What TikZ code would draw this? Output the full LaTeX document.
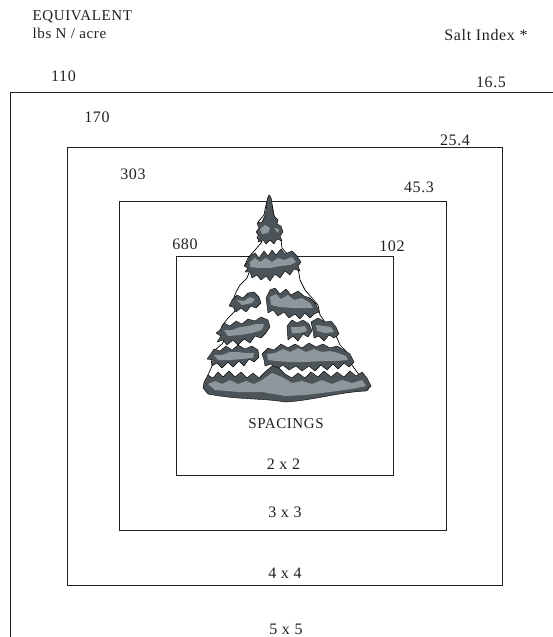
\documentclass[tikz,border=0pt]{standalone}
\usepackage{fontspec}
\setmainfont{Liberation Serif}[LetterSpace=4]
\definecolor{ink}{RGB}{35,31,32}
\definecolor{treedark}{RGB}{76,84,89}
\definecolor{treelight}{RGB}{142,151,156}

\begin{document}
\begin{tikzpicture}[x=1pt,y=-1pt]
%%%%%%%%%%%%%%%%%%%%%%%%%%%%%%%%%%%%%%%%%%%%%%%%%%%%%%%%
% STYLE
\tikzstyle{frame}=[draw=ink,line width=1.5pt]
\tikzstyle{num}=[font=\fontsize{16}{18}\selectfont,text=ink,anchor=base,inner sep=0pt]
\tikzstyle{head}=[font=\fontsize{15}{17}\selectfont,text=ink,inner sep=0pt]
\tikzstyle{snow}=[fill=white,draw=black,line width=0.7pt,line join=round]
\tikzstyle{dark}=[fill=treedark,draw=black,line width=0.4pt,line join=round]
\tikzstyle{light}=[fill=treelight]

\useasboundingbox (0,0) rectangle (553,637);
\clip (0,0) rectangle (553,637);

%%%%%%%%%%%%%%%%%%%%%%%%%%%%%%%%%%%%%%%%%%%%%%%%%%%%%%%%
% FRAMES
\draw[frame] (560,92.5) -- (10.5,92.5) -- (10.5,645);
\draw[frame] (67.5,147.5) rectangle (502.5,585.5);
\draw[frame] (119.5,201.5) rectangle (446.5,530.5);
\draw[frame] (176.5,256.5) rectangle (393.5,475.5);

%%%%%%%%%%%%%%%%%%%%%%%%%%%%%%%%%%%%%%%%%%%%%%%%%%%%%%%%
% TREE
\draw[snow] (269,195) -- (266,205) -- (264,215) -- (258,222) -- (262,228)
  -- (257,238) -- (262,242) -- (255,250) -- (248,258) -- (245,265)
  -- (250,270) -- (247,278) -- (240,285) -- (236,292) -- (233,300)
  -- (238,305) -- (234,312) -- (228,318) -- (222,326) -- (220,335)
  -- (226,338) -- (222,344) -- (215,350) -- (211,358) -- (212,366)
  -- (208,375) -- (205,383) -- (208,392)
  .. controls (240,400) and (260,395) .. (285,401)
  .. controls (310,399) and (340,392) .. (368,390)
  -- (368,385) -- (362,378) -- (357,372) -- (352,365) -- (350,358)
  -- (345,350) -- (340,345) -- (337,338) -- (333,330) -- (325,322)
  -- (320,315) -- (318,305) -- (312,298) -- (305,290) -- (300,280)
  -- (298,268) -- (292,262) -- (288,255) -- (282,248) -- (281,240)
  -- (277,232) -- (275,220) -- (272,205) -- cycle;

% top
\draw[dark] (269.5,195) -- (271.5,199) -- (272.5,208) -- (274,216) -- (278,220)
  -- (277,224) -- (281,226) -- (283,232) -- (280,236) -- (282,241)
  -- (277,239) -- (274,244) -- (270,240) -- (266,244) -- (263,240)
  -- (258,242) -- (259,236) -- (256,232) -- (259,228) -- (257,223)
  -- (262,222) -- (265.5,214) -- (266.5,204) -- (267.5,198) -- cycle;
\fill[light] (260,229) -- (265,225) -- (270,228) -- (268,233) -- (262,234) -- cycle;
\fill[light] (274,228) -- (279,229) -- (278,233) -- cycle;

% tier 2
\draw[dark] (247,263) -- (250,256) -- (255,253) -- (259,258) -- (264,251)
  -- (268,256) -- (272,250) -- (276,255) -- (281,249) -- (285,254)
  -- (292,251) -- (297,256) -- (301,262) -- (298,266) -- (300,271)
  -- (294,269) -- (290,275) -- (285,271) -- (280,278) -- (275,274)
  -- (270,281) -- (266,276) -- (261,280) -- (257,275) -- (252,278)
  -- (250,272) -- (245,272) -- (248,268) -- (244,266) -- cycle;
\fill[light] (250,262) -- (255,258) -- (260,262) -- (266,258) -- (272,262)
  -- (278,258) -- (284,260) -- (292,257) -- (296,262) -- (290,265)
  -- (280,266) -- (270,268) -- (258,268) -- (250,267) -- cycle;

% tier 3
\draw[dark] (232,300) -- (237,295) -- (243,298) -- (248,293) -- (254,292)
  -- (259,297) -- (261,303) -- (256,308) -- (251,306) -- (246,312)
  -- (241,308) -- (236,312) -- (233,307) -- (229,306) -- cycle;
\fill[light] (237,300) -- (244,301) -- (250,297) -- (255,299) -- (252,303) -- (242,305) -- cycle;
\draw[dark] (266,298) -- (270,290) -- (275,288) -- (280,294) -- (286,289)
  -- (291,295) -- (298,291) -- (304,296) -- (310,298) -- (316,304)
  -- (319,312) -- (314,314) -- (310,318) -- (305,313) -- (300,319)
  -- (295,314) -- (289,318) -- (284,312) -- (278,316) -- (273,310)
  -- (268,313) -- (267,305) -- cycle;
\fill[light] (270,297) -- (276,294) -- (281,299) -- (288,295) -- (294,300)
  -- (302,298) -- (310,303) -- (313,308) -- (304,308) -- (292,308)
  -- (280,307) -- (271,305) -- cycle;

% tier 4
\draw[dark] (220,330) -- (224,323) -- (230,326) -- (236,321) -- (242,324)
  -- (248,319) -- (255,321) -- (261,317) -- (268,320) -- (270,327)
  -- (266,333) -- (261,338) -- (255,336) -- (250,343) -- (244,339)
  -- (238,345) -- (233,340) -- (227,345) -- (223,340) -- (217,342)
  -- (221,336) -- (216,333) -- cycle;
\fill[light] (224,330) -- (232,330) -- (240,327) -- (248,326) -- (256,324)
  -- (264,324) -- (262,330) -- (252,333) -- (240,335) -- (228,336) -- cycle;
\draw[dark] (287,326) -- (292,320) -- (297,323) -- (303,320) -- (309,324)
  -- (312,331) -- (308,337) -- (303,334) -- (298,341) -- (293,336)
  -- (288,340) -- cycle;
\fill[light] (291,327) -- (298,327) -- (305,326) -- (307,331) -- (300,333) -- (292,333) -- cycle;
\draw[dark] (311,322) -- (318,318) -- (325,322) -- (331,321) -- (336,327)
  -- (339,334) -- (334,338) -- (329,335) -- (324,341) -- (319,336)
  -- (314,338) -- (313,331) -- cycle;
\fill[light] (316,325) -- (324,326) -- (331,327) -- (334,332) -- (325,333) -- (317,331) -- cycle;

% tier 5
\draw[dark] (210,355) -- (214,349) -- (220,351) -- (226,346) -- (232,350)
  -- (238,345) -- (245,349) -- (252,346) -- (258,350) -- (259,357)
  -- (254,362) -- (249,359) -- (244,366) -- (239,361) -- (233,367)
  -- (228,362) -- (222,368) -- (217,363) -- (212,366) -- (213,360)
  -- (207,359) -- cycle;
\fill[light] (214,355) -- (222,355) -- (230,352) -- (238,352) -- (246,353)
  -- (254,353) -- (253,358) -- (242,359) -- (230,360) -- (218,360) -- cycle;
\draw[dark] (262,354) -- (268,348) -- (274,350) -- (281,344) -- (288,348)
  -- (295,344) -- (302,348) -- (309,343) -- (316,347) -- (323,344)
  -- (330,348) -- (337,346) -- (344,350) -- (350,354) -- (354,362)
  -- (349,367) -- (344,363) -- (338,369) -- (333,364) -- (327,370)
  -- (321,365) -- (315,371) -- (309,366) -- (302,371) -- (296,366)
  -- (289,370) -- (283,365) -- (277,369) -- (271,364) -- (265,366)
  -- (264,360) -- cycle;
\fill[light] (267,354) -- (275,353) -- (283,349) -- (290,352) -- (298,348)
  -- (306,352) -- (314,349) -- (322,352) -- (330,351) -- (338,353)
  -- (346,356) -- (348,360) -- (336,361) -- (322,361) -- (306,362)
  -- (290,362) -- (276,361) -- (268,360) -- cycle;

% base
\draw[dark] (204,382) -- (208,375) -- (213,378) -- (218,372) -- (223,377)
  -- (229,371) -- (235,377) -- (241,372) -- (247,378) -- (253,373)
  -- (259,378) -- (265,372) -- (272,366) -- (279,368) -- (285,374)
  -- (292,378) -- (298,373) -- (305,378) -- (311,372) -- (318,377)
  -- (324,371) -- (331,377) -- (337,372) -- (344,377) -- (350,371)
  -- (356,376) -- (362,372) -- (367,378) -- (371,386) -- (366,391)
  .. controls (340,392) and (310,401) .. (285,402)
  .. controls (262,398) and (238,400) .. (208,394) -- (203,388) -- cycle;
\fill[light] (208,384) -- (215,381) -- (222,384) -- (230,380) -- (238,384)
  -- (246,381) -- (254,384) -- (262,380) -- (272,373) -- (282,377)
  -- (292,383) -- (302,381) -- (312,384) -- (322,380) -- (332,384)
  -- (342,380) -- (352,383) -- (362,380) -- (366,386) -- (352,389)
  -- (330,392) -- (305,395) -- (285,396) -- (262,392) -- (238,392)
  -- (215,390) -- cycle;

%%%%%%%%%%%%%%%%%%%%%%%%%%%%%%%%%%%%%%%%%%%%%%%%%%%%%%%%
% LABELS
\node[head,anchor=base west] (equiv) at (32.5,20) {EQUIVALENT};
\node[head,anchor=base west] (lbs) at (32.5,38.3) {lbs N / acre};
\node[head,anchor=base,font=\fontsize{16}{18}\selectfont] (salt) at (486,40) {Salt Index *};

\node[num] (n110) at (63.5,81) {110};
\node[num] (s165) at (491,87) {16.5};
\node[num] (n170) at (97,122) {170};
\node[num] (s254) at (455,145) {25.4};
\node[num] (n303) at (133,179) {303};
\node[num] (s453) at (419,192) {45.3};
\node[num] (n680) at (185,249) {680};
\node[num] (s102) at (392,251) {102};

\node[head,anchor=base] (spacings) at (286,428) {SPACINGS};
\node[num] (sp2) at (283.5,469) {2 x 2};
\node[num] (sp3) at (285,517) {3 x 3};
\node[num] (sp4) at (285,578) {4 x 4};
\node[num] (sp5) at (286,634.5) {5 x 5};

\end{tikzpicture}
\end{document}
